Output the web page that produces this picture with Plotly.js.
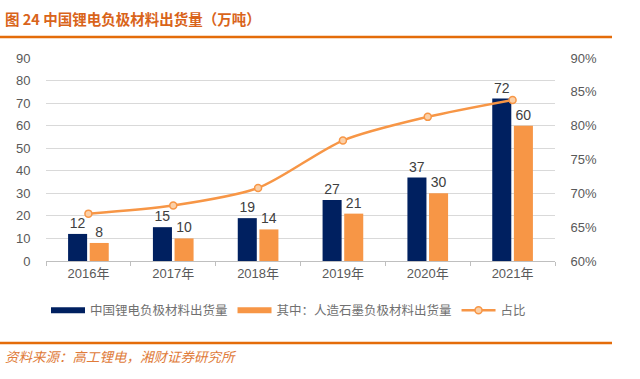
<!DOCTYPE html>
<html><head><meta charset="utf-8">
<script src="https://cdn.plot.ly/plotly-3.0.1.min.js"></script>
<style>body{margin:0;background:#fff}#c{width:640px;height:379px}</style>
</head><body><div id="c"></div>
<script>
var years = ['2016年','2017年','2018年','2019年','2020年','2021年'];
var totalShip = [12, 15, 19, 27, 37, 72];
var graphiteShip = [8, 10, 14, 21, 30, 60];
var share = [0.670, 0.682, 0.708, 0.778, 0.813, 0.838];
var nameTotal = '中国锂电负极材料出货量';
var nameGraphite = '其中：人造石墨负极材料出货量';
var nameShare = '占比';
var titleText = '图 24 中国锂电负极材料出货量（万吨）';
var sourceText = '资料来源：高工锂电，湘财证券研究所';

var navy = '#002060', orange = '#F79646';
var font = 'Arial, "Liberation Sans", "Noto Sans CJK SC", sans-serif';
var traces = [
  {type:'bar', name:nameTotal, x:years, y:totalShip, marker:{color:navy}, showlegend:false,
   text:totalShip.map(String), textposition:'outside', textfont:{size:14,color:'#404040'}, cliponaxis:false},
  {type:'bar', name:nameGraphite, x:years, y:graphiteShip, marker:{color:orange}, showlegend:false,
   text:graphiteShip.map(String), textposition:'outside', textfont:{size:14,color:'#404040'}, cliponaxis:false},
  {type:'scatter', mode:'lines+markers', name:nameShare, x:years, y:share, yaxis:'y2', showlegend:false,
   line:{color:orange, width:2.5, shape:'spline', smoothing:0.8},
   marker:{symbol:'circle', size:7, color:'#FBD0A8', line:{color:orange, width:1.5}}},
  // legend entries
  {type:'scatter', mode:'lines', name:nameTotal, x:[null], y:[null], line:{color:navy, width:6}},
  {type:'scatter', mode:'lines', name:nameGraphite, x:[null], y:[null], line:{color:orange, width:6}},
  {type:'scatter', mode:'lines+markers', name:nameShare, x:[null], y:[null], yaxis:'y2',
   line:{color:orange, width:2.5}, marker:{symbol:'circle', size:7, color:'#FBD0A8', line:{color:orange, width:1.5}}}
];
var layout = {
  width:640, height:379,
  margin:{l:46, r:85, t:58, b:118},
  paper_bgcolor:'#fff', plot_bgcolor:'#fff',
  font:{family:font, color:'#595959', size:13},
  barmode:'group', bargap:0.49, bargroupgap:0.12,
  showlegend:true,
  legend:{orientation:'h', x:0.0, xanchor:'left', y:-0.17, yanchor:'top',
          font:{size:12.5, color:'#707070'}, itemwidth:34, traceorder:'normal'},
  xaxis:{type:'category', showline:true, linecolor:'#BFBFBF', linewidth:1,
         ticks:'outside', tickson:'boundaries', ticklen:4, tickcolor:'#BFBFBF',
         tickfont:{size:13, color:'#595959'}, showgrid:false},
  yaxis:{range:[0,90], dtick:10, showgrid:true, gridcolor:'#D9D9D9', gridwidth:1,
         zeroline:false, tickfont:{size:13, color:'#595959'}, ticks:'outside', ticklen:12, tickcolor:'rgba(0,0,0,0)'},
  yaxis2:{range:[0.6,0.9], dtick:0.05, tickformat:'.0%', overlaying:'y', side:'right',
          showgrid:false, zeroline:false, tickfont:{size:13, color:'#595959'},
          ticks:'outside', ticklen:12, tickcolor:'rgba(0,0,0,0)'},
  annotations:[
    {text:'<b>'+titleText+'</b>', xref:'paper', yref:'paper', x:-0.085, y:1.197, xanchor:'left', yanchor:'middle',
     showarrow:false, font:{size:14.5, color:'#D9641A', family:'"Noto Sans CJK SC", sans-serif'}},
    {text:'<i>'+sourceText+'</i>', xref:'paper', yref:'paper', x:-0.085, y:-0.468, xanchor:'left', yanchor:'middle',
     showarrow:false, font:{size:13.5, color:'#E07B39', family:'"Noto Sans CJK SC", sans-serif'}}
  ],
  shapes:[
    {type:'line', xref:'paper', yref:'paper', x0:-0.0904, x1:1.112, y0:1.103, y1:1.103, line:{color:'#E46C0A', width:2.5}},
    {type:'line', xref:'paper', yref:'paper', x0:-0.0904, x1:1.112, y0:-0.404, y1:-0.404, line:{color:'#E46C0A', width:2.5}}
  ]
};
Plotly.newPlot('c', traces, layout, {displayModeBar:false, staticPlot:true});
</script></body></html>
